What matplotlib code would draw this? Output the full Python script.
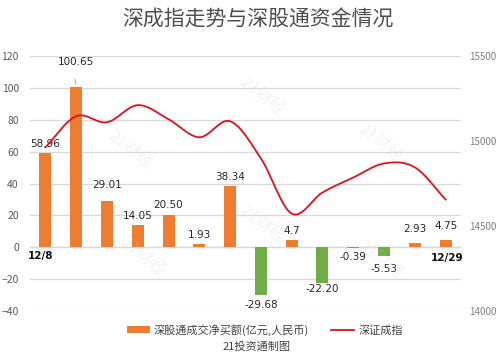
import numpy as np
import matplotlib
matplotlib.use("Agg")
import matplotlib.pyplot as plt
from matplotlib.patches import Patch
from matplotlib.lines import Line2D

plt.rcParams['font.family'] = ['Noto Sans CJK SC', 'DejaVu Sans']

# ---- data ----
flows = [58.96, 100.65, 29.01, 14.05, 20.50, 1.93, 38.34, -29.68, 4.7, -22.20, -0.39, -5.53, 2.93, 4.75]
flow_labels = ["58.96", "100.65", "29.01", "14.05", "20.50", "1.93", "38.34", "-29.68", "4.7", "-22.20", "-0.39", "-5.53", "2.93", "4.75"]
szci = [14963, 15146, 15110, 15211, 15128, 15022, 15116, 14898, 14573, 14697, 14785, 14868, 14845, 14656]
first_date = "12/8"
last_date = "12/29"
left_ticks = [-40, -20, 0, 20, 40, 60, 80, 100, 120]
right_ticks = [14000, 14500, 15000, 15500]
title = "深成指走势与深股通资金情况"
bar_legend = "深股通成交净买额(亿元,人民币)"
line_legend = "深证成指"
source = "21投资通制图"
watermark = "21财经"

# label offsets in points (dx, dy) from bar end
label_offsets = [(0, 3), (0, 14), (0, 8), (0, 3), (0, 3), (0, 3), (0, 3),
                 (0, -4), (0, 3), (0, -1), (0, -3), (0, -6), (0, 6), (0, 6)]

ORANGE = "#ED7D31"
GREEN = "#70AD47"
RED = "#E0101A"
GRID = "#D9D9D9"
TICK = "#595959"

fig = plt.figure(figsize=(4.99, 3.59), dpi=100)
ax = fig.add_axes([30/499, 1-311/359, 431/499, 255/359])
ax2 = ax.twinx()

x = np.arange(len(flows))
colors = [ORANGE if v >= 0 else GREEN for v in flows]
ax.bar(x, flows, width=0.39, color=colors, zorder=2)

ax.set_xlim(-0.5, len(flows) - 0.5)
ax.set_ylim(-40, 120)
ax.set_yticks(left_ticks)
ax.yaxis.grid(True, color=GRID, linewidth=0.9, zorder=0)
ax.set_axisbelow(True)
ax.set_xticks([])
for s in ax.spines.values():
    s.set_visible(False)
ax.tick_params(axis='y', length=0, labelsize=7.5, labelcolor=TICK, pad=8)

ax.axhline(0, color=GRID, linewidth=0.9, zorder=1)

# value labels
for i, (v, lab) in enumerate(zip(flows, flow_labels)):
    dx, dy = label_offsets[i]
    va = 'bottom' if v >= 0 else 'top'
    ax.annotate(lab, (i, v), xytext=(dx, dy), textcoords='offset points',
                ha='center', va=va, fontsize=7.5, color='#262626',
                family=['DejaVu Sans'], zorder=5)
# leader line for 100.65
ax.annotate("", xy=(1, flows[1]), xytext=(0.95, flows[1] + 6.5),
            arrowprops=dict(arrowstyle='-', color='#A6A6A6', lw=0.7))

# date labels
ax.text(-0.15, -2.5, first_date, ha='center', va='top', fontsize=7.5,
        fontweight='bold', color='#111111', family=['DejaVu Sans'])
ax.text(13.05, -3.5, last_date, ha='center', va='top', fontsize=7.5,
        fontweight='bold', color='#111111', family=['DejaVu Sans'])

# smooth line (Catmull-Rom rendering of the data points)
def catmull_rom(xs, ys, n=30):
    xs = np.asarray(xs, float); ys = np.asarray(ys, float)
    px = np.concatenate([[2*xs[0]-xs[1]], xs, [2*xs[-1]-xs[-2]]])
    py = np.concatenate([[2*ys[0]-ys[1]], ys, [2*ys[-1]-ys[-2]]])
    outx, outy = [], []
    for k in range(1, len(px) - 2):
        t = np.linspace(0, 1, n, endpoint=False)
        for arr, out in ((px, outx), (py, outy)):
            p0, p1, p2, p3 = arr[k-1], arr[k], arr[k+1], arr[k+2]
            out.extend(0.5*((2*p1) + (-p0+p2)*t + (2*p0-5*p1+4*p2-p3)*t**2 + (-p0+3*p1-3*p2+p3)*t**3))
    outx.append(xs[-1]); outy.append(ys[-1])
    return np.array(outx), np.array(outy)

sx, sy = catmull_rom(x, szci)
ax2.plot(sx, sy, color=RED, linewidth=1.3, zorder=4)
ax2.set_ylim(14000, 15500)
ax2.set_yticks(right_ticks)
for s in ax2.spines.values():
    s.set_visible(False)
ax2.tick_params(axis='y', length=0, labelsize=7, labelcolor='#7F7F7F', pad=6)

# watermarks
for (wx, wy) in [(130, 150), (262, 97), (380, 143), (143, 257), (262, 225), (380, 260)]:
    fig.text(wx/499, 1-wy/359, watermark, fontsize=12, color='#C8C8C8', alpha=0.22,
             rotation=-38, ha='center', va='center', zorder=0)

# title
fig.text(258/499, 1-20/359, title, ha='center', va='center', fontsize=15, color='#4D4D4D')

# legend
handles = [Patch(facecolor=ORANGE, edgecolor='none'),
           Line2D([0], [0], color=RED, linewidth=1.3)]
fig.legend(handles, [bar_legend, line_legend], loc='center', bbox_to_anchor=(265/499, 1-330/359),
           ncol=2, frameon=False, fontsize=8, handlelength=2.0, handleheight=0.6,
           columnspacing=2.0, handletextpad=0.4, labelcolor='#404040')

fig.text(257/499, 1-347/359, source, ha='center', va='center', fontsize=8, color='#404040')

fig.savefig("out.png", dpi=100)
